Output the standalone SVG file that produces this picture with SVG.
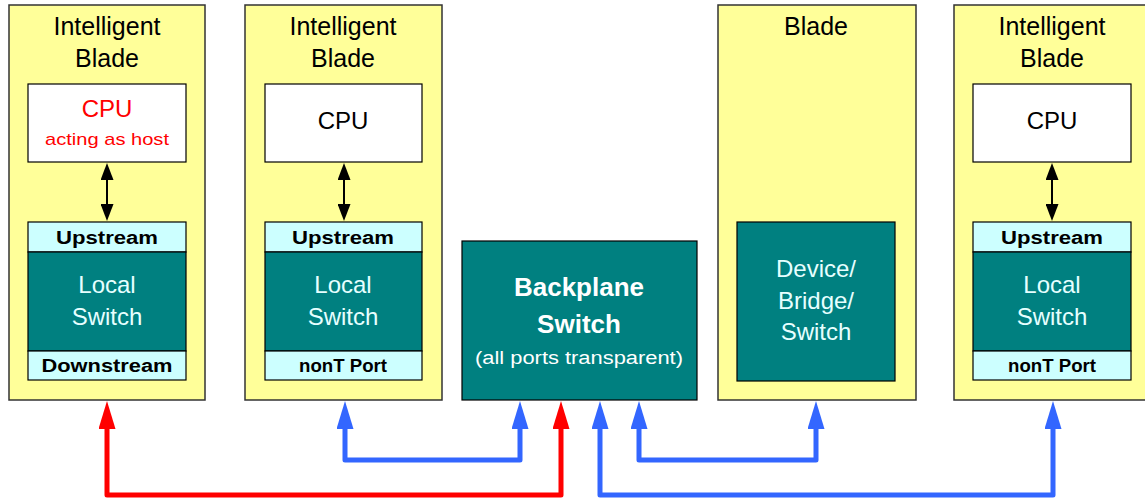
<svg xmlns="http://www.w3.org/2000/svg" width="1145" height="500" viewBox="0 0 1145 500">
  <style>
    text { font-family: "Liberation Sans", Arial, sans-serif; text-anchor: middle; }
    .blade { fill: #FFFF99; stroke: #333333; stroke-width: 1.5; }
    .cpu { fill: #FFFFFF; stroke: #000000; stroke-width: 1.2; }
    .port { fill: #CCFFFF; stroke: #000000; stroke-width: 1.2; }
    .sw { fill: #008080; stroke: #000000; stroke-width: 1.2; }
    .title { font-size: 25px; fill: #000000; }
    .cpuTxt { font-size: 24px; fill: #000000; }
    .portTxt { font-size: 18px; font-weight: bold; fill: #000000; }
    .swTxt { font-size: 24px; fill: #E6FFFF; }
    .bpTxt { font-size: 26px; font-weight: bold; fill: #FFFFFF; }
    .bpSub { font-size: 18px; fill: #FFFFFF; }
    .blue { fill: none; stroke: #3366FF; stroke-width: 5; stroke-linejoin: round; marker-start: url(#headBlue); marker-end: url(#headBlue); }
    .red { fill: none; stroke: #FF0000; stroke-width: 5; stroke-linejoin: round; marker-start: url(#headRed); marker-end: url(#headRed); }
    .blk { fill: none; stroke: #000000; stroke-width: 2; marker-start: url(#headBlk); marker-end: url(#headBlk); }
  </style>
  <defs>
    <marker id="headBlue" markerUnits="userSpaceOnUse" markerWidth="28" markerHeight="17" viewBox="0 0 28 17" refX="0" refY="8.5" orient="auto-start-reverse">
      <path d="M0,0 L28,8.5 L0,17 Z" fill="#3366FF"/>
    </marker>
    <marker id="headRed" markerUnits="userSpaceOnUse" markerWidth="28" markerHeight="17" viewBox="0 0 28 17" refX="0" refY="8.5" orient="auto-start-reverse">
      <path d="M0,0 L28,8.5 L0,17 Z" fill="#FF0000"/>
    </marker>
    <marker id="headBlk" markerUnits="userSpaceOnUse" markerWidth="17" markerHeight="13" viewBox="0 0 17 13" refX="0" refY="6.5" orient="auto-start-reverse">
      <path d="M0,0 L17,6.5 L0,13 Z" fill="#000000"/>
    </marker>
  </defs>

  <rect width="1145" height="500" fill="#FFFFFF"/>

  <!-- Intelligent blade acting as host -->
  <g id="blade-host">
    <rect class="blade" x="9" y="5" width="196" height="395"/>
    <text class="title" x="107" y="35">Intelligent</text>
    <text class="title" x="107" y="67">Blade</text>
    <rect class="cpu" x="28" y="84" width="158" height="78"/>
    <text class="cpuTxt" x="107" y="117" fill="#FF0000" style="fill:#FF0000">CPU</text>
    <text x="107" y="145" font-size="17" fill="#FF0000" textLength="124" lengthAdjust="spacingAndGlyphs">acting as host</text>
    <rect class="port" x="28" y="222" width="158" height="30"/>
    <text class="portTxt" x="107" y="244" textLength="102" lengthAdjust="spacingAndGlyphs">Upstream</text>
    <rect class="sw" x="28" y="252" width="158" height="99"/>
    <text class="swTxt" x="107" y="293">Local</text>
    <text class="swTxt" x="107" y="325">Switch</text>
    <rect class="port" x="28" y="351" width="158" height="29"/>
    <text class="portTxt" x="107" y="372" textLength="131" lengthAdjust="spacingAndGlyphs">Downstream</text>
  </g>

  <!-- Intelligent blade 2 -->
  <g id="blade-2">
    <rect class="blade" x="245" y="5" width="197" height="395"/>
    <text class="title" x="343" y="35">Intelligent</text>
    <text class="title" x="343" y="67">Blade</text>
    <rect class="cpu" x="265" y="84" width="157" height="78"/>
    <text class="cpuTxt" x="343" y="129">CPU</text>
    <rect class="port" x="265" y="222" width="157" height="30"/>
    <text class="portTxt" x="343" y="244" textLength="102" lengthAdjust="spacingAndGlyphs">Upstream</text>
    <rect class="sw" x="265" y="252" width="157" height="99"/>
    <text class="swTxt" x="343" y="293">Local</text>
    <text class="swTxt" x="343" y="325">Switch</text>
    <rect class="port" x="265" y="351" width="157" height="29"/>
    <text class="portTxt" x="343" y="372" textLength="88" lengthAdjust="spacingAndGlyphs">nonT Port</text>
  </g>

  <!-- Backplane switch -->
  <g id="backplane">
    <rect class="sw" x="462" y="241" width="235" height="159"/>
    <text class="bpTxt" x="579" y="296">Backplane</text>
    <text class="bpTxt" x="579" y="333">Switch</text>
    <text class="bpSub" x="579" y="364" textLength="208" lengthAdjust="spacingAndGlyphs">(all ports transparent)</text>
  </g>

  <!-- Plain blade -->
  <g id="blade-3">
    <rect class="blade" x="718" y="5" width="198" height="395"/>
    <text class="title" x="816" y="35">Blade</text>
    <rect class="sw" x="737" y="222" width="158" height="159"/>
    <text class="swTxt" x="816" y="277">Device/</text>
    <text class="swTxt" x="816" y="309">Bridge/</text>
    <text class="swTxt" x="816" y="340">Switch</text>
  </g>

  <!-- Intelligent blade 4 -->
  <g id="blade-4">
    <rect class="blade" x="954" y="5" width="196" height="395"/>
    <text class="title" x="1052" y="35">Intelligent</text>
    <text class="title" x="1052" y="67">Blade</text>
    <rect class="cpu" x="973" y="84" width="158" height="78"/>
    <text class="cpuTxt" x="1052" y="129">CPU</text>
    <rect class="port" x="973" y="222" width="158" height="30"/>
    <text class="portTxt" x="1052" y="244" textLength="102" lengthAdjust="spacingAndGlyphs">Upstream</text>
    <rect class="sw" x="973" y="252" width="158" height="99"/>
    <text class="swTxt" x="1052" y="293">Local</text>
    <text class="swTxt" x="1052" y="325">Switch</text>
    <rect class="port" x="973" y="351" width="158" height="29"/>
    <text class="portTxt" x="1052" y="372" textLength="88" lengthAdjust="spacingAndGlyphs">nonT Port</text>
  </g>

  <!-- Connectors -->
  <g id="connectors">
    <path class="blk" d="M107,180 V204"/>
    <path class="blk" d="M344,180 V204"/>
    <path class="blk" d="M1052,180 V204"/>
    <path class="blue" d="M345,429 V460 H520 V429"/>
    <path class="blue" d="M639,429 V460 H816 V429"/>
    <path class="blue" d="M600,429 V495 H1053 V429"/>
    <path class="red" d="M107,429 V495 H561 V429"/>
  </g>
</svg>
